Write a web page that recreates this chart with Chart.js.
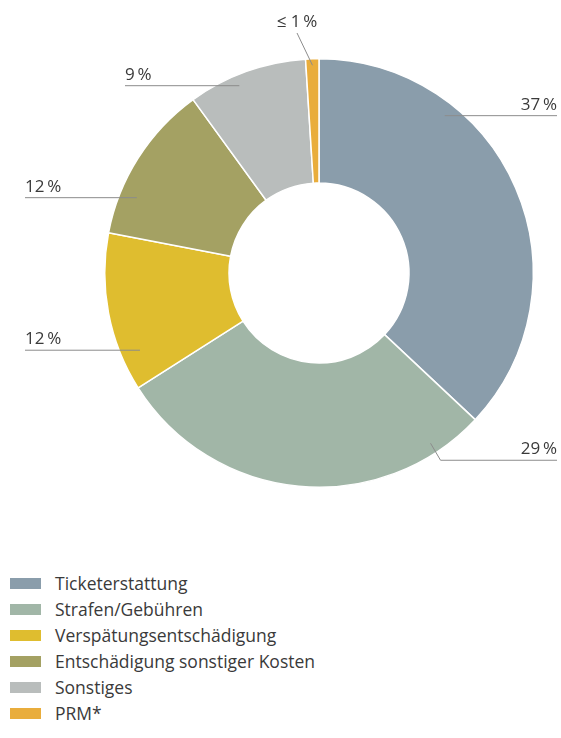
<!DOCTYPE html>
<html lang="de">
<head>
<meta charset="utf-8">
<title>Beschwerdegründe</title>
<script src="https://cdn.jsdelivr.net/npm/chart.js@4.4.1/dist/chart.umd.min.js"></script>
<style>
  html, body { margin: 0; padding: 0; background: #fff; }
  body { width: 561px; height: 738px; position: relative; overflow: hidden; font-family: "Open Sans", sans-serif; }
  .chart-wrap { position: absolute; left: 0; top: 0; width: 561px; height: 540px; }
  .legend { position: absolute; left: 10px; top: 570px; margin: 0; padding: 0; list-style: none; }
  .legend li { height: 26px; display: flex; align-items: center; font-size: 17.5px; color: #3a3a3a; }
  .legend .box { width: 31px; height: 11px; margin-right: 14px; }
</style>
</head>
<body>
<div class="chart-wrap"><canvas id="chartShares"></canvas></div>
<ul class="legend" id="legend"></ul>

<script>
const categories = [
  'Ticketerstattung',
  'Strafen/Gebühren',
  'Verspätungsentschädigung',
  'Entschädigung sonstiger Kosten',
  'Sonstiges',
  'PRM*'
];
const shares = [37, 29, 12, 12, 9, 1];
const sharePrefix = ['', '', '', '', '', '≤ '];
const colors = ['#8a9dab', '#a1b6a7', '#dfbd2f', '#a4a163', '#b9bdbc', '#e9ad3c'];

// where each leader line starts inside its slice, and where its text sits
const leaders = [
  { frac: 0.29, rad: 0.94, side: 'right', x: 557 },
  { frac: 0.13, rad: 0.95, side: 'right', x: 557, kink: [10, 17] },
  { frac: 0.21, rad: 0.91, side: 'left', x: 25 },
  { frac: 0.27, rad: 0.92, side: 'left', x: 25 },
  { frac: 0.40, rad: 0.95, side: 'left', x: 125 },
  { frac: 0.50, rad: 0.97, side: 'top', x: 297, y: 33 }
];

const leaderPlugin = {
  id: 'leaderLabels',
  afterDatasetsDraw(chart) {
    const ctx = chart.ctx;
    const meta = chart.getDatasetMeta(0);
    ctx.save();
    ctx.strokeStyle = '#8c8c8c';
    ctx.lineWidth = 1;
    ctx.fillStyle = '#3a3a3a';
    ctx.font = '17px "Open Sans", sans-serif';
    meta.data.forEach((arc, i) => {
      const p = arc.getProps(['x', 'y', 'startAngle', 'endAngle', 'outerRadius'], true);
      const cfg = leaders[i];
      const a = p.startAngle + cfg.frac * (p.endAngle - p.startAngle);
      const r = cfg.rad * p.outerRadius;
      const ax = p.x + r * Math.cos(a);
      const ay = p.y + r * Math.sin(a);
      const text = sharePrefix[i] + shares[i] + '\u2009%';

      ctx.beginPath();
      ctx.moveTo(ax, ay);
      if (cfg.side === 'top') {
        ctx.lineTo(cfg.x, cfg.y);
        ctx.stroke();
        ctx.textAlign = 'center';
        ctx.textBaseline = 'alphabetic';
        ctx.fillText(text, cfg.x, cfg.y - 6);
        return;
      }
      let ly = ay;
      if (cfg.kink) {
        ctx.lineTo(ax + cfg.kink[0], ay + cfg.kink[1]);
        ly = ay + cfg.kink[1];
        ctx.lineTo(cfg.x, ly);
      } else {
        ctx.lineTo(cfg.x, ly);
      }
      ctx.stroke();
      ctx.textAlign = cfg.side === 'right' ? 'right' : 'left';
      ctx.textBaseline = 'alphabetic';
      ctx.fillText(text, cfg.x, ly - 6);
    });
    ctx.restore();
  }
};

new Chart(document.getElementById('chartShares'), {
  type: 'doughnut',
  data: {
    labels: categories,
    datasets: [{
      data: shares,
      backgroundColor: colors,
      borderColor: '#ffffff',
      borderWidth: 1.5,
      hoverOffset: 0
    }]
  },
  options: {
    responsive: true,
    maintainAspectRatio: false,
    animation: false,
    cutout: '42%',
    layout: { padding: { left: 104, right: 27, top: 58, bottom: 52 } },
    plugins: {
      legend: { display: false },
      tooltip: { enabled: false }
    }
  },
  plugins: [leaderPlugin]
});

const legendEl = document.getElementById('legend');
categories.forEach((name, i) => {
  const li = document.createElement('li');
  const box = document.createElement('span');
  box.className = 'box';
  box.style.background = colors[i];
  li.appendChild(box);
  li.appendChild(document.createTextNode(name));
  legendEl.appendChild(li);
});
</script>
</body>
</html>
